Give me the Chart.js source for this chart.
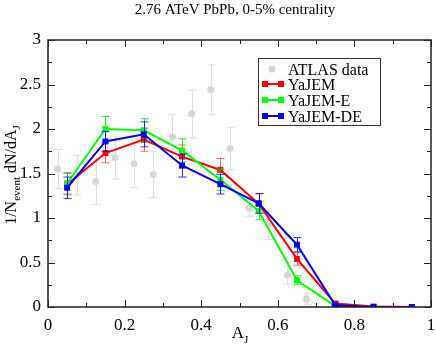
<!DOCTYPE html>
<html>
<head>
<meta charset="utf-8">
<script src="https://cdn.jsdelivr.net/npm/chart.js@4"></script>
<style>
html, body { margin: 0; padding: 0; background: #fff; }
#wrap { width: 436px; height: 347px; }
</style>
</head>
<body>
<div id="wrap"><canvas id="chart"></canvas></div>
<script>
"use strict";

// ATLAS data (gray points)
const atlasX = [0.025, 0.075, 0.125, 0.175, 0.225, 0.275, 0.325, 0.375, 0.425, 0.475, 0.525, 0.575, 0.625, 0.675];
const atlasY = [1.55, 1.48, 1.41, 1.68, 1.61, 1.49, 1.91, 2.17, 2.44, 1.78, 1.11, 0.92, 0.36, 0.09];
const atlasErr = [0.22, 0.22, 0.26, 0.24, 0.27, 0.26, 0.25, 0.27, 0.28, 0.24, 0.09, 0.16, 0.10, 0.065];

// model curves
const modelX = [0.05, 0.15, 0.25, 0.35, 0.45, 0.55, 0.65, 0.75, 0.85, 0.95];
const yajem = [1.38, 1.73, 1.88, 1.69, 1.54, 1.16, 0.54, 0.04, 0.005, 0.0];
const yajemErr = [0.12, 0.11, 0.13, 0.13, 0.13, 0.11, 0.07, 0.01, 0, 0];
const yajemE = [1.39, 2.00, 1.985, 1.76, 1.43, 1.08, 0.30, 0.01, 0.0, 0.0];
const yajemEErr = [0.12, 0.14, 0.13, 0.13, 0.12, 0.10, 0.05, 0.01, 0, 0];
const yajemDE = [1.34, 1.86, 1.94, 1.59, 1.38, 1.165, 0.70, 0.02, 0.0, 0.0];
const yajemDEErr = [0.12, 0.11, 0.14, 0.13, 0.11, 0.11, 0.08, 0.01, 0, 0];

const FONT = "'Liberation Serif', 'Times New Roman', serif";

function pts(xs, ys) {
    return xs.map((x, i) => ({ x: x, y: ys[i] }));
}

function tickText(v) {
    return String(Number(v.toFixed(2)));
}

const errorBars = {
    id: 'errorBars',
    beforeDatasetDraw(chart, args) {
        const ds = chart.data.datasets[args.index];
        if (!ds.errors) return;
        const ctx = chart.ctx;
        const xs = chart.scales.x, ys = chart.scales.y;
        ctx.save();
        ctx.strokeStyle = ds.errColor;
        ctx.lineWidth = 1;
        ds.data.forEach((p, i) => {
            const e = ds.errors[i];
            if (!e) return;
            const px = Math.round(xs.getPixelForValue(p.x)) + 0.5;
            const y1 = ys.getPixelForValue(p.y + e);
            const y2 = ys.getPixelForValue(p.y - e);
            ctx.beginPath();
            ctx.moveTo(px, y1); ctx.lineTo(px, y2);
            ctx.moveTo(px - 4, y1); ctx.lineTo(px + 4, y1);
            ctx.moveTo(px - 4, y2); ctx.lineTo(px + 4, y2);
            ctx.stroke();
        });
        ctx.restore();
    }
};

function drawRich(ctx, parts, x, y, align) {
    let total = 0;
    parts.forEach(p => { ctx.font = p[1] + "px " + FONT; total += ctx.measureText(p[0]).width; });
    let cx = align === 'center' ? x - total / 2 : x;
    parts.forEach(p => {
        ctx.font = p[1] + "px " + FONT;
        ctx.fillText(p[0], cx, y + p[2]);
        cx += ctx.measureText(p[0]).width;
    });
}

const decorations = {
    id: 'decorations',
    afterDraw(chart) {
        const ctx = chart.ctx;
        const a = chart.chartArea;
        const xs = chart.scales.x, ys = chart.scales.y;
        ctx.save();

        // frame
        ctx.strokeStyle = '#222';
        ctx.lineWidth = 1.5;
        ctx.strokeRect(a.left, a.top, a.right - a.left, a.bottom - a.top);

        // inward ticks on all four sides
        ctx.lineWidth = 1;
        ctx.beginPath();
        for (let i = 0; i <= 10; i++) {
            const len = (i % 2 === 0) ? 7 : 4;
            const px = Math.round(xs.getPixelForValue(i / 10)) + 0.5;
            ctx.moveTo(px, a.bottom); ctx.lineTo(px, a.bottom - len);
            ctx.moveTo(px, a.top); ctx.lineTo(px, a.top + len);
        }
        for (let i = 0; i <= 12; i++) {
            const len = (i % 2 === 0) ? 7 : 4;
            const py = Math.round(ys.getPixelForValue(i * 0.25)) + 0.5;
            ctx.moveTo(a.left, py); ctx.lineTo(a.left + len, py);
            ctx.moveTo(a.right, py); ctx.lineTo(a.right - len, py);
        }
        ctx.stroke();

        ctx.fillStyle = '#000';
        ctx.textBaseline = 'alphabetic';

        // title
        ctx.textAlign = 'center';
        ctx.font = "15px " + FONT;
        ctx.fillText("2.76 ATeV PbPb, 0-5% centrality", 235, 14);

        // x axis title A_J
        ctx.textAlign = 'left';
        drawRich(ctx, [["A", 17, 0], ["J", 11, 5]], 240, 338, 'center');

        // y axis title
        ctx.save();
        ctx.translate(16, 175);
        ctx.rotate(-Math.PI / 2);
        drawRich(ctx, [["1/N", 16, 0], ["event", 11, 4], [" dN/dA", 16, 0], ["J", 11, 4]], 0, 0, 'center');
        ctx.restore();

        // legend
        const lx = 258.5, ly = 58.5, lw = 122, lh = 67;
        ctx.fillStyle = '#fff';
        ctx.fillRect(lx, ly, lw, lh);
        ctx.strokeStyle = '#333';
        ctx.lineWidth = 1;
        ctx.strokeRect(lx, ly, lw, lh);
        const entries = [
            { label: "ATLAS data", color: '#d3d3d3', circle: true, y: 69 },
            { label: "YaJEM", color: '#ff0000', y: 84 },
            { label: "YaJEM-E", color: '#00ff00', y: 100 },
            { label: "YaJEM-DE", color: '#0000ff', y: 116 }
        ];
        entries.forEach(en => {
            ctx.fillStyle = en.color;
            ctx.strokeStyle = en.color;
            if (en.circle) {
                ctx.beginPath();
                ctx.arc(272, en.y, 3.5, 0, Math.PI * 2);
                ctx.fill();
            } else {
                ctx.lineWidth = 2;
                ctx.beginPath();
                ctx.moveTo(264, en.y); ctx.lineTo(281, en.y);
                ctx.stroke();
                ctx.fillRect(262, en.y - 3, 6, 6);
                ctx.fillRect(278, en.y - 3, 6, 6);
            }
            ctx.fillStyle = '#000';
            ctx.font = "16px " + FONT;
            ctx.textAlign = 'left';
            ctx.fillText(en.label, 288, en.y + 5.5);
        });

        ctx.restore();
    }
};

function modelSet(label, color, errColor, ys, errs, order) {
    return {
        label: label,
        data: pts(modelX, ys),
        errors: errs,
        errColor: errColor,
        showLine: true,
        borderColor: color,
        backgroundColor: color,
        borderWidth: 2,
        pointStyle: 'rect',
        pointRadius: 4.2,
        pointBorderWidth: 0,
        order: order
    };
}

new Chart(document.getElementById('chart').getContext('2d'), {
    type: 'scatter',
    data: {
        datasets: [
            {
                label: "ATLAS data",
                data: pts(atlasX, atlasY),
                errors: atlasErr,
                errColor: '#dedede',
                showLine: false,
                backgroundColor: '#d6d6d6',
                borderColor: '#d6d6d6',
                pointRadius: 3.5,
                pointBorderWidth: 0,
                order: 3
            },
            modelSet("YaJEM", '#ff0000', 'rgba(255,0,0,0.6)', yajem, yajemErr, 2),
            modelSet("YaJEM-E", '#00ff00', 'rgba(0,220,0,0.8)', yajemE, yajemEErr, 1),
            modelSet("YaJEM-DE", '#0000ff', 'rgba(0,0,255,0.8)', yajemDE, yajemDEErr, 0)
        ]
    },
    options: {
        responsive: true,
        maintainAspectRatio: false,
        animation: false,
        layout: { padding: { top: 40, right: 5, left: 0, bottom: 0 } },
        plugins: { legend: { display: false }, tooltip: { enabled: false } },
        scales: {
            x: {
                type: 'linear', min: 0, max: 1,
                ticks: { stepSize: 0.2, color: '#000', padding: 8, maxRotation: 0, callback: tickText,
                         font: { family: FONT, size: 17 } },
                grid: { display: false, drawTicks: false, tickLength: 0 },
                border: { display: false },
                afterFit(s) { s.height = 40; s.paddingLeft = 0; s.paddingRight = 0; }
            },
            y: {
                type: 'linear', min: 0, max: 3,
                ticks: { stepSize: 0.5, color: '#000', padding: 7, callback: tickText,
                         font: { family: FONT, size: 17 } },
                grid: { display: false, drawTicks: false, tickLength: 0 },
                border: { display: false },
                afterFit(s) { s.width = 48; s.paddingTop = 0; s.paddingBottom = 0; }
            }
        }
    },
    plugins: [errorBars, decorations]
});
</script>
</body>
</html>
